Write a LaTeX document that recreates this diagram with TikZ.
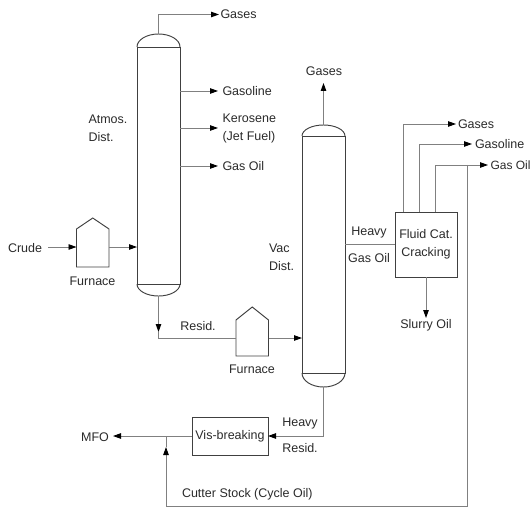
\documentclass[tikz,border=0pt]{standalone}
\usepackage{fontspec}
\setmainfont{Liberation Sans}
\usetikzlibrary{arrows.meta}
\definecolor{pipe}{HTML}{808080}
\definecolor{vessel}{HTML}{404040}
\definecolor{inkt}{HTML}{2A2A2A}
\tikzset{
  pipeline/.style={draw=pipe,line width=0.9bp},
  flow/.style={pipeline,-{Stealth[length=8bp,width=5.5bp,inset=0pt,color=black]}},
  vesselline/.style={draw=vessel,line width=0.95bp},
  body/.style={vesselline,rectangle,inner sep=0pt,outer sep=0pt,anchor=north west},
  lab/.style={text=inkt,font=\fontsize{12.5bp}{18bp}\selectfont,inner sep=0pt,outer sep=0pt},
  labw/.style={lab,anchor=west,align=left},
  labc/.style={lab,anchor=center,align=center}
}
\begin{document}
\begin{tikzpicture}[x=1bp,y=-1bp]
\useasboundingbox (0,0) rectangle (530,507);
% Atmospheric column
\node[body,minimum width=43bp,minimum height=237bp] (col1) at (137,47) {};
\draw[vesselline] (col1.north west) arc[start angle=180,end angle=360,x radius=21.5,y radius=13];
\draw[vesselline] (col1.south west) arc[start angle=180,end angle=0,x radius=21.5,y radius=12];
\coordinate (col1top) at (158.5,34);
\coordinate (col1bot) at (158.5,296);
% Vacuum column
\node[body,minimum width=43bp,minimum height=237bp] (col2) at (302,136) {};
\draw[vesselline] (col2.north west) arc[start angle=180,end angle=360,x radius=21.5,y radius=11];
\draw[vesselline] (col2.south west) arc[start angle=180,end angle=0,x radius=21.5,y radius=14];
\coordinate (col2top) at (323.5,125);
\coordinate (col2bot) at (323.5,387);
% Furnaces
\node[body,minimum width=32.5bp,minimum height=38bp,draw=none] (f1) at (76.5,229) {};
\draw[vesselline] (f1.south west) -- (f1.north west) -- (92.75,218) -- (f1.north east) -- (f1.south east) -- cycle;
\node[body,minimum width=32.5bp,minimum height=36bp,draw=none] (f2) at (236,320) {};
\draw[vesselline] (f2.south west) -- (f2.north west) -- (252.25,307) -- (f2.north east) -- (f2.south east) -- cycle;
% Boxes
\node[body,minimum width=62bp,minimum height=65bp] (fcc) at (395,212) {};
\node[body,minimum width=76bp,minimum height=38bp] (vis) at (192,417) {};
% Labels
\node[labw] (lgases1) at (220.5,14.5) {Gases};
\node[labw] (lgasoline1) at (222.5,91) {Gasoline};
\node[labw] (lkero) at (222.5,128) {Kerosene\\(Jet Fuel)};
\node[labw] (lgasoil1) at (222.5,166) {Gas Oil};
\node[labw] (latmos) at (88.5,128) {Atmos.\\Dist.};
\node[labw] (lcrude) at (8,248) {Crude};
\node[labc] (lf1) at (92.5,281) {Furnace};
\node[labc] (lresid) at (198,326) {Resid.};
\node[labc] (lf2) at (252,369) {Furnace};
\node[labw] (lvac) at (269,257.5) {Vac\\Dist.};
\node[labc] (lgases2) at (324,71) {Gases};
\node[labc] (lheavy1) at (369,232) {Heavy};
\node[labc] (lgasoil2) at (369,258) {Gas Oil};
\node[labc] at (fcc.center) [yshift=0.5bp] (lfcc) {Fluid Cat.\\Cracking};
\node[labw] (lgases3) at (458,124) {Gases};
\node[labw] (lgasoline2) at (475,144.5) {Gasoline};
\node[labw,font=\fontsize{12bp}{18bp}\selectfont] (lgasoil3) at (490.5,165) {Gas Oil};
\node[labc] (lslurry) at (426,325.5) {Slurry Oil};
\node[labc] at (vis.center) (lvis) {Vis-breaking};
\node[labc] (lheavy2) at (300,423) {Heavy};
\node[labc] (lresid2) at (300,448) {Resid.};
\node[labc] (lmfo) at (95,437) {MFO};
\node[labw] (lcutter) at (182,494) {Cutter Stock (Cycle Oil)};
% Connectors, column 1
\draw[flow] (col1top) |- (219,14.5);
\draw[flow] (col1.east |- 0,91) -- (218,91);
\draw[flow] (col1.east |- 0,128) -- (218,128);
\draw[flow] (col1.east |- 0,166) -- (218,166);
\coordinate (crudeS) at (48,247);
\draw[flow] (crudeS) -- (f1.west |- crudeS);
\draw[flow] (f1.east |- crudeS) -- (col1.west |- crudeS);
% Resid
\coordinate (residTip) at (158.5,332);
\coordinate (residCorner) at (158.5,338);
\draw[flow] (col1bot) -- (residTip);
\draw[pipeline] (residTip) -- (residCorner) -- (f2.west |- residCorner);
\draw[flow] (f2.east |- residCorner) -- (col2.west |- residCorner);
% Column 2
\draw[flow] (col2top) -- (323.5,83);
\draw[pipeline] (col2.east |- 0,244) -- (fcc.west |- 0,244);
\draw[flow] (col2bot) |- (vis.east |- 0,436);
\coordinate (junction) at (166,436);
\draw[pipeline] (vis.west |- junction) -- (junction);
\draw[flow] (junction) -- (113,436);
% FCC
\draw[flow] (403,212) |- (456,124);
\draw[flow] (419,212) |- (472,144);
\draw[flow] (435,212) |- (488,165);
\draw[flow] (fcc.south -| 426,0) -- (426,318);
% Cutter stock
\coordinate (cutterTip) at (166,447);
\draw[pipeline] (467,165) -- (467,506) -- (166,506);
\draw[flow] (166,506) -- (cutterTip);
\draw[pipeline] (cutterTip) -- (junction);
\end{tikzpicture}
\end{document}
